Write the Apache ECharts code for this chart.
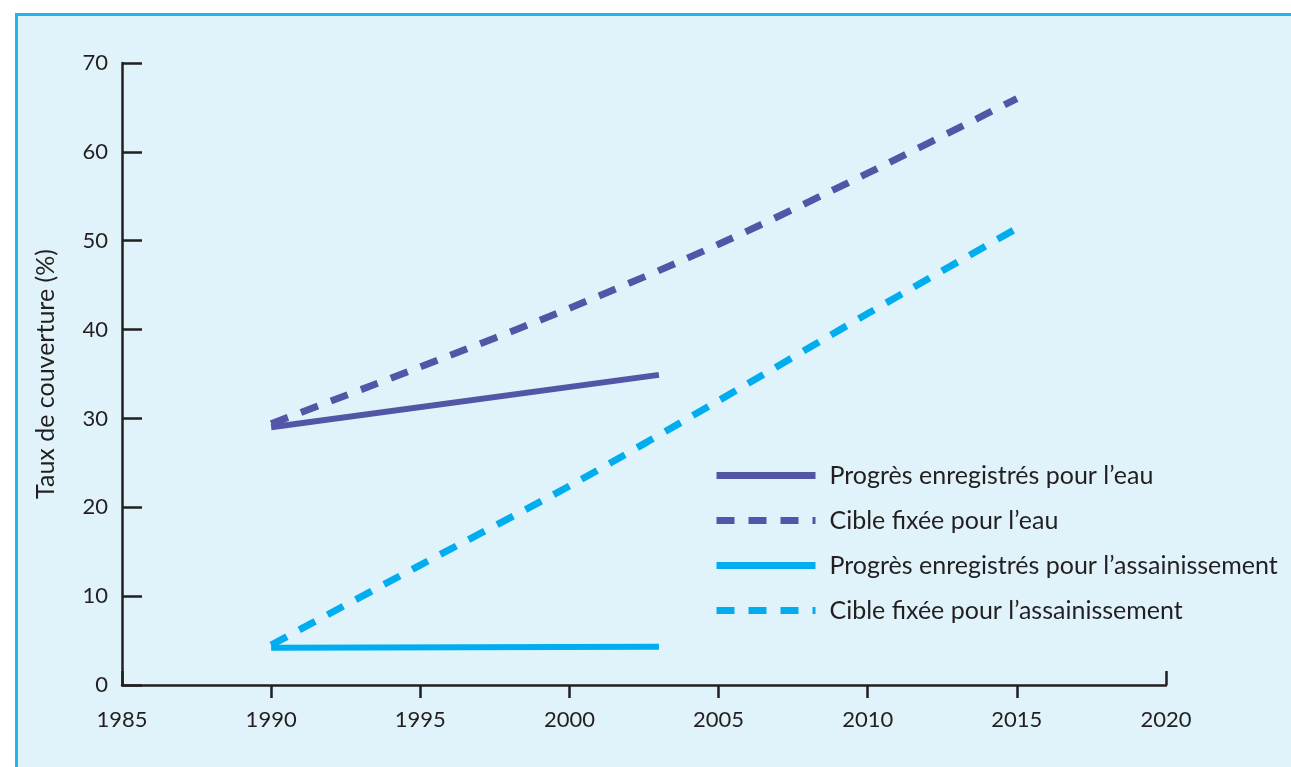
<!DOCTYPE html>
<html>
<head>
<meta charset="utf-8">
<script src="https://cdn.jsdelivr.net/npm/echarts@6/dist/echarts.min.js"></script>
<style>
    html, body { margin: 0; padding: 0; background: #fff; }
    .frame {
        position: absolute; left: 15px; top: 13px; right: 0; bottom: 0;
        background: #e0f3fa;
        border-top: 3px solid #22b4ea;
        border-left: 3px solid #22b4ea;
    }
    .chart { position: absolute; left: 0; top: 0; width: 1291px; height: 767px; }
</style>
</head>
<body>
<div class="frame"></div>
<div class="chart"></div>
<script>
    // années et valeurs
    const xTicks = [1985, 1990, 1995, 2000, 2005, 2010, 2015, 2020]
    const progresYears = [1990, 2003]
    const eauProgres = [29.0, 34.9]
    const assainProgres = [4.2, 4.3]
    const cibleYears = [1990, 1995, 2000, 2005, 2010, 2015]
    const eauCible = [29.4, 35.8, 42.4, 49.6, 57.6, 66.0]
    const assainCible = [4.5, 13.5, 22.4, 32.0, 41.8, 51.4]
    const names = [
        'Progrès enregistrés pour l’eau',
        'Cible fixée pour l’eau',
        'Progrès enregistrés pour l’assainissement',
        'Cible fixée pour l’assainissement'
    ]

    const pair = (xs, ys) => xs.map((x, i) => [x, ys[i]])
    const ink = '#231f20'
    const font = 'Lato'

    let chart = echarts.init(document.getElementsByClassName('chart')[0])

    let series = [
        { name: names[0], data: pair(progresYears, eauProgres), color: '#5356a6', dash: 'solid', w: 6 },
        { name: names[1], data: pair(cibleYears, eauCible), color: '#5356a6', dash: [18, 14], w: 7 },
        { name: names[2], data: pair(progresYears, assainProgres), color: '#00aeef', dash: 'solid', w: 6 },
        { name: names[3], data: pair(cibleYears, assainCible), color: '#00aeef', dash: [18, 14], w: 7 }
    ].map(s => ({
        name: s.name,
        type: 'line',
        data: s.data,
        smooth: 0.3,
        symbol: 'none',
        color: s.color,
        lineStyle: { color: s.color, width: s.w, type: s.dash, cap: 'butt' },
        z: 3
    }))

    let option = {
        animation: false,
        textStyle: { fontFamily: font, color: ink },
        grid: { left: 122, right: 125, top: 63, bottom: 82 },
        legend: {
            orient: 'vertical',
            left: 713,
            top: 463,
            padding: 0,
            itemWidth: 99,
            itemHeight: 14,
            itemGap: 20,
            itemStyle: { opacity: 0 },
            lineStyle: { width: 7, cap: 'butt' },
            textStyle: { fontFamily: font, fontSize: 25, color: ink, padding: [0, 0, 0, 9] },
            data: names
        },
        xAxis: [{
            type: 'value',
            min: 1985,
            max: 2020,
            interval: 5,
            axisLine: { lineStyle: { color: ink, width: 2.5 } },
            axisTick: { show: true, inside: false, length: 13, customValues: [1990, 1995, 2000, 2005, 2010, 2015], lineStyle: { color: ink, width: 2.5 } },
            axisLabel: { margin: 24, fontSize: 22, color: ink, fontFamily: font, formatter: v => String(v) },
            splitLine: { show: false }
        }, {
            type: 'value',
            position: 'bottom',
            min: 1985,
            max: 2020,
            interval: 35,
            axisLine: { show: false },
            axisTick: { show: true, inside: true, length: 14, lineStyle: { color: ink, width: 2.5 } },
            axisLabel: { show: false },
            splitLine: { show: false }
        }],
        yAxis: {
            type: 'value',
            min: 0,
            max: 70,
            interval: 10,
            name: 'Taux de couverture (%)',
            nameLocation: 'middle',
            nameGap: 64,
            nameTextStyle: { fontSize: 25, color: ink, fontFamily: font },
            axisLine: { show: true, lineStyle: { color: ink, width: 2.5 } },
            axisTick: { show: true, inside: true, length: 20, lineStyle: { color: ink, width: 2.5 } },
            axisLabel: { margin: 14, fontSize: 22, color: ink, fontFamily: font },
            splitLine: { show: false }
        },
        series: series
    }

    chart.setOption(option)
</script>
</body>
</html>
